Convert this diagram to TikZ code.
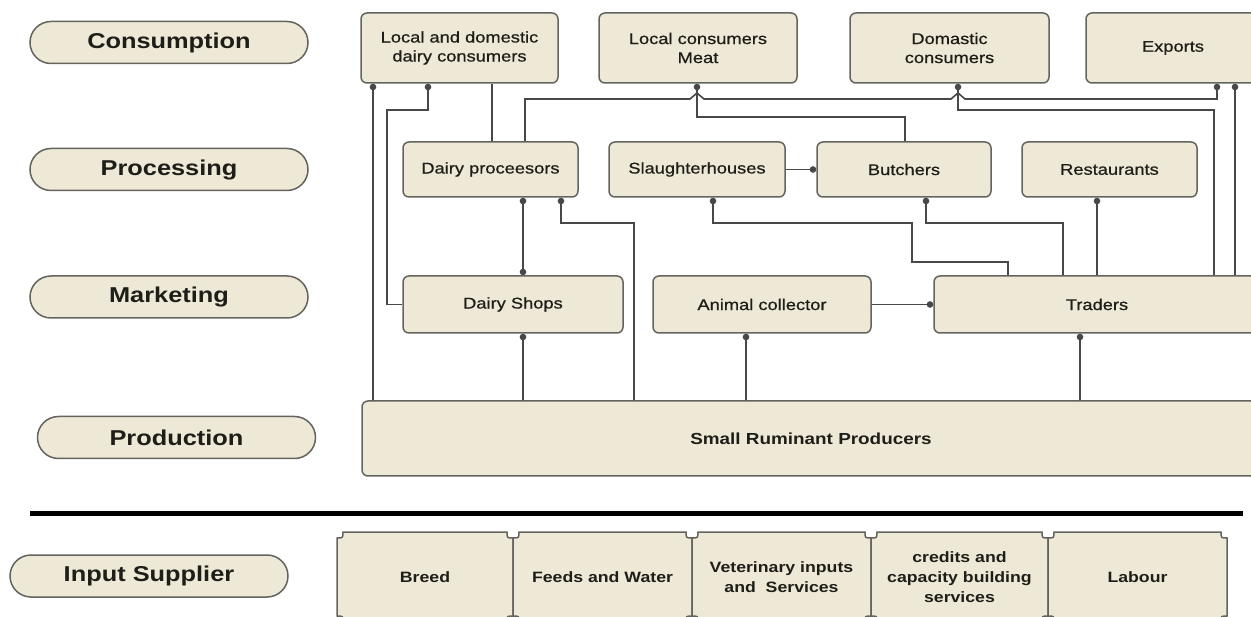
\documentclass[tikz,border=0pt]{standalone}
\usepackage{fontspec}
\setmainfont{Liberation Sans}[FakeStretch=1.18]
\newfontfamily\medfont{Liberation Sans}[FakeStretch=1.18, FakeBold=0.7]
\usetikzlibrary{arrows.meta,shapes.misc}
\definecolor{beige}{RGB}{238,232,214}
\definecolor{bordergray}{RGB}{100,100,95}
\definecolor{linegray}{RGB}{72,72,72}
\definecolor{txt}{RGB}{30,30,25}
\tikzset{
  box/.style={draw=bordergray, fill=beige, line width=1.5pt, rounded corners=6pt,
    align=center, text=txt, font=\medfont\fontsize{15.5}{19}\selectfont, inner sep=0pt},
  layer/.style={draw=bordergray, fill=beige, line width=1.5pt, rounded rectangle,
    minimum width=278pt, minimum height=42pt, inner sep=0pt, text=txt,
    font=\fontsize{21.5}{24}\selectfont\bfseries},
  inshape/.style={draw=bordergray, fill=beige, line width=1.5pt},
  intext/.style={align=center, text=txt, inner sep=0pt,
    font=\fontsize{15}{20}\selectfont\bfseries},
  conn/.style={draw=linegray, line width=1.6pt, -{Circle[length=6.5pt]}},
  conn2/.style={draw=linegray, line width=1.6pt, {Circle[length=6.5pt]}-{Circle[length=6.5pt]}},
  plain/.style={draw=linegray, line width=1.6pt},
}
\begin{document}
\begin{tikzpicture}[x=1pt,y=-1pt]
\useasboundingbox (0,0) rectangle (1251,617);
\clip (0,0) rectangle (1251,617);
\fill[white] (0,0) rectangle (1251,617);

% layer labels
\node[layer] (lcons) at (169,42.5) {Consumption};
\node[layer] (lproc) at (169,169.5) {Processing};
\node[layer] (lmark) at (169,297) {Marketing};
\node[layer] (lprod) at (176.5,437.5) {Production};
\node[layer] (linp) at (149,576) {Input Supplier};

% consumption
\node[box, minimum width=197pt, minimum height=70pt] (ldc) at (459.5,48) {Local and domestic\\dairy consumers};
\node[box, minimum width=198pt, minimum height=70pt] (lcm) at (698,48) {Local consumers\\Meat};
\node[box, minimum width=199pt, minimum height=70pt] (dom) at (949.5,48) {Domastic\\consumers};
\node[box, minimum width=174pt, minimum height=70pt] (exp) at (1173,48) {Exports};

% processing
\node[box, minimum width=175pt, minimum height=55pt] (dp) at (490.5,169.5) {Dairy proceesors};
\node[box, minimum width=176pt, minimum height=55pt] (sl) at (697,169.5) {Slaughterhouses};
\node[box, minimum width=174pt, minimum height=55pt] (bu) at (904,169.5) {Butchers};
\node[box, minimum width=175pt, minimum height=55pt] (re) at (1109.5,169.5) {Restaurants};

% marketing
\node[box, minimum width=220pt, minimum height=57pt] (ds) at (513,304.5) {Dairy Shops};
\node[box, minimum width=218pt, minimum height=57pt] (ac) at (762,304.5) {Animal collector};
\node[box, minimum width=326pt, minimum height=57pt] (tr) at (1097,304.5) {Traders};

% production
\node[box, minimum width=898pt, minimum height=75pt, font=\fontsize{16}{19}\selectfont\bfseries] (pr) at (811,438.5) {Small Ruminant Producers};

% separator
\draw[line width=5pt, black] (30,513) -- (1243,513);

% input supplier boxes (concave corners)
\foreach \xa/\xb in {337/513, 513/692, 692/871, 871/1048, 1048/1227}{
  \draw[inshape] (\xa+6,532) -- (\xb-6,532) .. controls (\xb-6,538) .. (\xb,538)
    -- (\xb,616) .. controls (\xb-6,616) .. (\xb-6,622)
    -- (\xa+6,622) .. controls (\xa+6,616) .. (\xa,616)
    -- (\xa,538) .. controls (\xa+6,538) .. (\xa+6,532) -- cycle;
}
\node[intext] (ib1) at (425,577) {Breed};
\node[intext] (ib2) at (602.5,577) {Feeds and Water};
\node[intext] (ib3) at (781.5,577) {Veterinary inputs\\and\ \ Services};
\node[intext] (ib4) at (959.5,577) {credits and\\capacity building\\services};
\node[intext] (ib5) at (1137.5,577) {Labour};

% connectors
\draw[conn] (pr.north -| 373,0) -- (ldc.south -| 373,0);
\draw[conn] (ds.west) -| (387,110) -- (428,110) -- (ldc.south -| 428,0);
\draw[plain] (dp.north -| 492,0) -- (ldc.south -| 492,0);
\draw[conn] (dp.north -| 525,0) -- (525,99) -- (690,99) -- (697,93) -- (704,99)
  -- (951,99) -- (958,93) -- (965,99) -- (1217,99) -- (exp.south -| 1217,0);
\draw[conn] (bu.north -| 905,0) -- (905,117) -- (697,117) -- (lcm.south -| 697,0);
\draw[conn] (tr.north -| 1214,0) -- (1214,110) -- (958,110) -- (dom.south -| 958,0);
\draw[conn] (tr.north -| 1235,0) -- (exp.south -| 1235,0);
\draw[conn] (sl) -- (bu);
\draw[conn2] (ds.north -| 523,0) -- (dp.south -| 523,0);
\draw[conn] (pr.north -| 634,0) -- (634,223) -- (561,223) -- (dp.south -| 561,0);
\draw[conn] (pr.north -| 523,0) -- (ds.south -| 523,0);
\draw[conn] (pr.north -| 746,0) -- (ac.south -| 746,0);
\draw[conn] (ac) -- (tr);
\draw[conn] (pr.north -| 1080,0) -- (tr.south -| 1080,0);
\draw[conn] (tr.north -| 1008,0) -- (1008,262) -- (912,262) -- (912,223) -- (713,223) -- (sl.south -| 713,0);
\draw[conn] (tr.north -| 1063,0) -- (1063,223) -- (926,223) -- (bu.south -| 926,0);
\draw[conn] (tr.north -| 1097,0) -- (re.south -| 1097,0);
\end{tikzpicture}
\end{document}
